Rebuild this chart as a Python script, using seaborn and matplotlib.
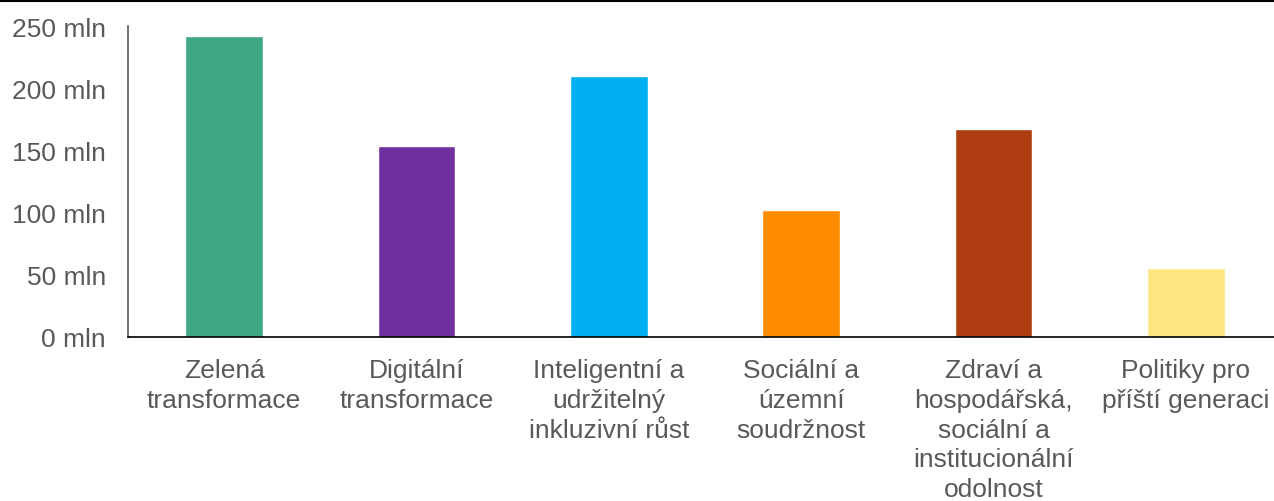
import matplotlib
matplotlib.use("Agg")
import matplotlib.pyplot as plt
from matplotlib.lines import Line2D
import seaborn as sns
import pandas as pd

# Data
kategorie = [
    "Zelená\ntransformace",
    "Digitální\ntransformace",
    "Inteligentní a\nudržitelný\ninkluzivní růst",
    "Sociální a\núzemní\nsoudržnost",
    "Zdraví a\nhospodářská,\nsociální a\ninstitucionální\nodolnost",
    "Politiky pro\npříští generaci",
]
hodnoty = [242, 153.5, 209.8, 102, 167.2, 55.5]  # mln
barvy = ["#40A783", "#7030A0", "#00B0F0", "#FF8C00", "#AF3D12", "#FFE680"]
yticks = [0, 50, 100, 150, 200, 250]

df = pd.DataFrame({"kategorie": kategorie, "hodnota": hodnoty})

sns.set_theme(style="white")
plt.rcParams["font.family"] = ["Liberation Sans", "DejaVu Sans"]

fig = plt.figure(figsize=(12.74, 5.02), dpi=100)
ax = fig.add_axes([0.1005, 0.3267, 0.9058, 0.6193])

sns.barplot(data=df, x="kategorie", y="hodnota", hue="kategorie",
            palette=barvy, width=0.405, legend=False, ax=ax, saturation=1)

ax.set_ylim(0, 250)
ax.set_xlim(-0.5, len(kategorie) - 0.5)
ax.set_yticks(yticks)
ax.set_yticklabels([f"{v} mln" for v in yticks])
ax.set_xlabel("")
ax.set_ylabel("")
ax.tick_params(axis="y", length=0, pad=16, labelsize=19, labelcolor="#595959")
ax.tick_params(axis="x", length=0, pad=15, labelsize=19, labelcolor="#595959")
for lab in ax.get_xticklabels():
    lab.set_linespacing(1.31)
    lab.set_verticalalignment("top")

for s in ["top", "right"]:
    ax.spines[s].set_visible(False)
ax.spines["left"].set_color("#595959")
ax.spines["left"].set_linewidth(1.2)
ax.spines["bottom"].set_color("black")
ax.spines["bottom"].set_linewidth(1.2)

# horní linka přes celou šířku
fig.add_artist(Line2D([0, 1], [0.996, 0.996], transform=fig.transFigure,
                      color="black", linewidth=1.5))

fig.savefig("out.png", dpi=100)
